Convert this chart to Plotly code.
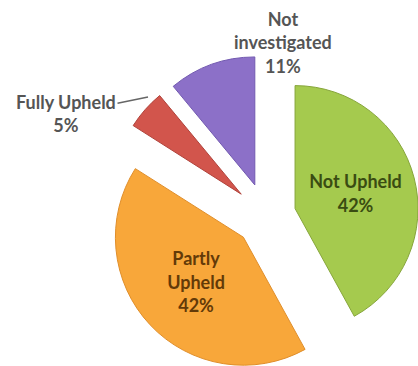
import math
import plotly.graph_objects as go

# Complaint outcomes, share of cases (%)
labels = ["Not Upheld", "Partly Upheld", "Fully Upheld", "Not investigated"]
values = [42, 42, 5, 11]
label_lines = [["Not Upheld"], ["Partly", "Upheld"], ["Fully Upheld"], ["Not", "investigated"]]
inside = [True, True, False, False]

colors = ["#a5ca4e", "#f8a73a", "#d2554c", "#8c70c8"]
edge_colors = ["#86a53a", "#e08e2a", "#b0433b", "#7259b0"]
text_colors = ["#3a4c12", "#633a08", "#555555", "#555555"]

W, H = 418, 366
CX, CY = 266, 216          # centre of the un-exploded pie (px)
R = 128                    # pie radius (px)
explode = [30, 31, 33, 33]  # how far each slice is pulled out (px)
FONT = "Lato"
FONT_SIZE = 18

total = sum(values)
fig = go.Figure()

start = 0.0
for i, v in enumerate(values):
    frac = v / total
    mid = (start + frac / 2) * 2 * math.pi
    start += frac
    ax = CX + explode[i] * math.sin(mid)
    ay = CY - explode[i] * math.cos(mid)
    r = min(R, ax, W - ax, ay, H - ay)

    fill = ["rgba(0,0,0,0)"] * len(values)
    line = ["rgba(0,0,0,0)"] * len(values)
    text = [""] * len(values)
    fill[i] = colors[i]
    line[i] = edge_colors[i]
    if inside[i]:
        text[i] = "<br>".join(label_lines[i] + [f"{v}%"])

    fig.add_trace(go.Pie(
        labels=labels,
        values=values,
        sort=False,
        direction="clockwise",
        rotation=0,
        text=text,
        textinfo="text",
        textposition="inside",
        insidetextorientation="horizontal",
        insidetextfont=dict(family=FONT, size=FONT_SIZE, color=text_colors[i], weight="bold"),
        marker=dict(colors=fill, line=dict(color=line, width=1)),
        domain=dict(x=[(ax - r) / W, (ax + r) / W],
                    y=[(H - ay - r) / H, (H - ay + r) / H]),
        hoverinfo="skip",
        showlegend=False,
    ))

# Labels for the two small slices sit outside the pie
fig.add_annotation(
    x=283 / W, y=1 - 42 / H, xref="paper", yref="paper",
    xanchor="center", yanchor="middle",
    text="<br>".join(label_lines[3] + [f"{values[3]}%"]),
    showarrow=False,
    font=dict(family=FONT, size=FONT_SIZE, color=text_colors[3], weight="bold"),
)
fig.add_annotation(
    x=148 / W, y=1 - 97 / H, xref="paper", yref="paper",
    text="<br>".join(label_lines[2] + [f"{values[2]}%"]),
    showarrow=True, arrowhead=0, arrowwidth=1.5, arrowcolor="#666666",
    ax=-82, ay=17,
    font=dict(family=FONT, size=FONT_SIZE, color=text_colors[2], weight="bold"),
)

fig.update_layout(
    width=W, height=H,
    margin=dict(l=0, r=0, t=0, b=0),
    paper_bgcolor="white",
    plot_bgcolor="white",
)

fig.write_html("out.html")
